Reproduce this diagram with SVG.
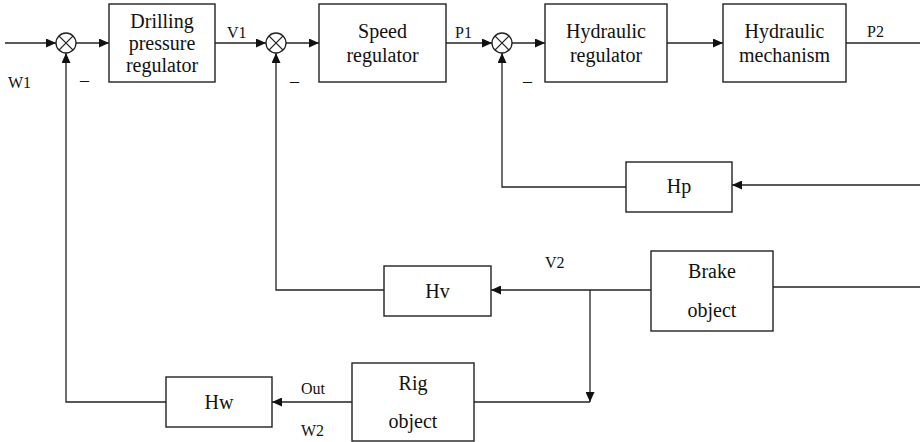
<svg xmlns="http://www.w3.org/2000/svg" width="920" height="442" viewBox="0 0 920 442">
<style>
.box{fill:#fff;stroke:#222;stroke-width:1.4}
.ln{fill:none;stroke:#222;stroke-width:1.3}
.arr{marker-end:url(#ah)}
.t{font-family:'Liberation Serif','Times New Roman','DejaVu Serif',serif;font-size:20px;fill:#111;text-anchor:middle}
.lb{font-family:'Liberation Serif','Times New Roman','DejaVu Serif',serif;font-size:16px;fill:#111}
.sum{fill:#fff;stroke:#222;stroke-width:1.3}
</style>
<defs>
<marker id="ah" viewBox="0 0 10 10" refX="10" refY="5" markerWidth="10" markerHeight="9" markerUnits="userSpaceOnUse" orient="auto" preserveAspectRatio="none">
<path d="M0,0 L10,5 L0,10 z" fill="#111"/>
</marker>
</defs>
<rect width="920" height="442" fill="#fff"/>
<g id="connectors">
<path class="ln arr" d="M5,43 H56"/>
<path class="ln arr" d="M76,43 H109"/>
<path class="ln arr" d="M215,43 H266"/>
<path class="ln arr" d="M286,43 H319"/>
<path class="ln arr" d="M446,43 H492"/>
<path class="ln arr" d="M512,43 H545"/>
<path class="ln arr" d="M667,43 H723"/>
<path class="ln" d="M846,43 H920"/>
<path class="ln arr" d="M920,185 H732"/>
<path class="ln arr" d="M626,187 H502 V53"/>
<path class="ln" d="M920,287 H773"/>
<path class="ln arr" d="M651,290 H491"/>
<path class="ln arr" d="M590,290 V402"/>
<path class="ln" d="M474,402 H590"/>
<path class="ln arr" d="M384,290 H276 V53"/>
<path class="ln arr" d="M352,402 H272"/>
<path class="ln arr" d="M166,402 H66 V53"/>
</g>
<g id="sum1"><circle class="sum" cx="66" cy="43" r="10"/><path class="ln" d="M58.9,35.9 L73.1,50.1 M73.1,35.9 L58.9,50.1"/></g>
<g id="sum2"><circle class="sum" cx="276" cy="43" r="10"/><path class="ln" d="M268.9,35.9 L283.1,50.1 M283.1,35.9 L268.9,50.1"/></g>
<g id="sum3"><circle class="sum" cx="502" cy="43" r="10"/><path class="ln" d="M494.9,35.9 L509.1,50.1 M509.1,35.9 L494.9,50.1"/></g>
<g id="drilling"><rect class="box" x="109" y="4" width="106" height="78"/><text class="t" x="162" y="28">Drilling</text><text class="t" x="162" y="50">pressure</text><text class="t" x="162" y="72">regulator</text></g>
<g id="speed"><rect class="box" x="319" y="4" width="127" height="78"/><text class="t" x="382.5" y="38">Speed</text><text class="t" x="382.5" y="62">regulator</text></g>
<g id="hydreg"><rect class="box" x="545" y="4" width="122" height="78"/><text class="t" x="606" y="38">Hydraulic</text><text class="t" x="606" y="62">regulator</text></g>
<g id="hydmech"><rect class="box" x="723" y="4" width="123" height="78"/><text class="t" x="784.5" y="38">Hydraulic</text><text class="t" x="784.5" y="62">mechanism</text></g>
<g id="hp"><rect class="box" x="626" y="162" width="106" height="50"/><text class="t" x="679" y="193">Hp</text></g>
<g id="brake"><rect class="box" x="651" y="251" width="122" height="80"/><text class="t" x="712" y="278">Brake</text><text class="t" x="712" y="317">object</text></g>
<g id="hv"><rect class="box" x="384" y="266" width="107" height="50"/><text class="t" x="437.5" y="298">Hv</text></g>
<g id="rig"><rect class="box" x="352" y="363" width="122" height="78"/><text class="t" x="413" y="390">Rig</text><text class="t" x="413" y="428">object</text></g>
<g id="hw"><rect class="box" x="166" y="377" width="106" height="50"/><text class="t" x="219" y="409">Hw</text></g>
<g id="labels">
<text class="lb" x="8" y="88">W1</text>
<text class="lb" x="227" y="38">V1</text>
<text class="lb" x="455" y="38">P1</text>
<text class="lb" x="867" y="37">P2</text>
<text class="lb" x="545" y="268">V2</text>
<text class="lb" x="301" y="394">Out</text>
<text class="lb" x="301" y="436">W2</text>
<text class="lb" x="80" y="86" style="font-size:18px">–</text>
<text class="lb" x="290" y="87" style="font-size:18px">–</text>
<text class="lb" x="523" y="87" style="font-size:18px">–</text>
</g>
</svg>
